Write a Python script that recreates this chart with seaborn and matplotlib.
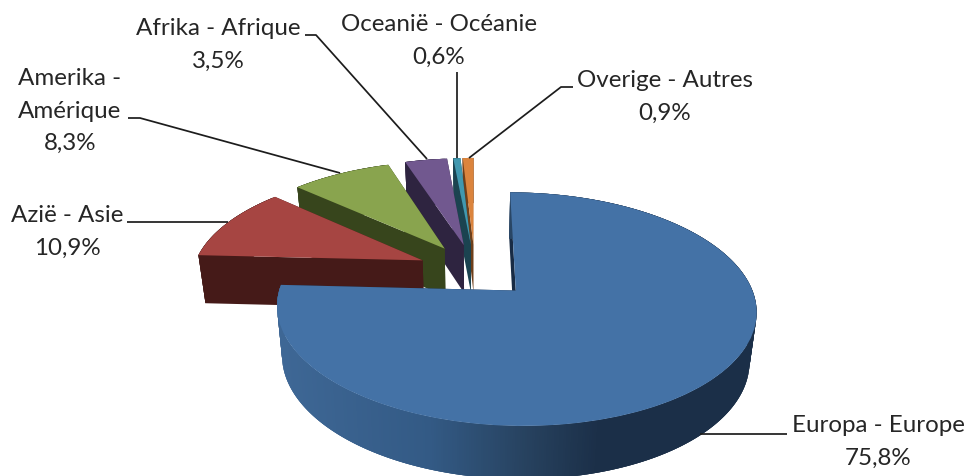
import numpy as np
import matplotlib
matplotlib.use("Agg")
import matplotlib.pyplot as plt
from matplotlib.collections import PolyCollection
from matplotlib.colors import to_rgb
from matplotlib.transforms import Transform
import seaborn as sns

categories = ["Europa - Europe", "Azië - Asie", "Amerika -\nAmérique",
              "Afrika - Afrique", "Oceanië - Océanie", "Overige - Autres"]
values = [75.8, 10.9, 8.3, 3.5, 0.6, 0.9]
top_colors = ["#4472a6", "#a64542", "#89a44e", "#71588f", "#4198af", "#db843d"]
wall_colors = ["#1b2f48", "#451a18", "#37451c", "#2e2440", "#1b4350", "#6e3f1a"]
label_pos = [(878, 442), (67, 232), (70, 111), (218, 45), (439, 41), (665, 97)]
leaders = [
    [(700, 434), (787, 434)],
    [(127, 222), (228, 222)],
    [(128, 118), (140, 118), (340, 173)],
    [(305, 35), (316, 35), (427, 159)],
    [(457, 72), (457, 158)],
    [(573, 87), (561, 87), (469, 158)],
]

EXPLODE = 0.25
X0, Y0, SX, SY, C = 475.0, 270.5, 230.0, 107.5, 0.155
VX, KX = 475.0, 0.0255


class Perspective(Transform):
    """Flat pie plane to the tilted plane of the picture, in pixels."""
    input_dims = output_dims = 2
    is_separable = False
    has_inverse = False

    def transform_non_affine(self, values):
        xy = np.asarray(values, float)
        w = 1 + C * xy[:, 1]
        return np.column_stack([X0 + SX * xy[:, 0] / w, Y0 - SY * xy[:, 1] / w])


persp = Perspective()


def lower(p):
    return np.array([VX + (p[0] - VX) * (1 - KX), p[1] + 48 + 0.03 * (p[1] - 253)])


def side_colour(x, base):
    if base != wall_colors[0]:
        return to_rgb(base)
    stops_x = [283, 430, 527, 600]
    stops_c = np.array([to_rgb(c) for c in ["#3e6795", "#335a85", "#27425f", "#1b2f48"]])
    return tuple(np.interp(x, stops_x, stops_c[:, i]) for i in range(3))


sns.set_theme(style="white")
plt.rcParams["font.family"] = ["Lato", "DejaVu Sans"]

fig = plt.figure(figsize=(9.68, 4.76), dpi=100)
ax = fig.add_axes([0, 0, 1, 1])
wedges, _ = ax.pie(values, explode=[EXPLODE] * len(values), colors=sns.color_palette(top_colors),
                   startangle=90, counterclock=False, radius=1,
                   wedgeprops=dict(edgecolor="none", linewidth=0))
ax.set_aspect("auto")

order = [5, 4, 3, 2, 1, 0]
for z, i in enumerate(order):
    w = wedges[i]
    base = 2 + z * 2
    cx, cy = w.center
    th = np.radians(np.linspace(w.theta1, w.theta2, max(6, int((w.theta2 - w.theta1) * 2))))
    arc = persp.transform(np.column_stack([cx + w.r * np.cos(th), cy + w.r * np.sin(th)]))
    apex = persp.transform(np.array([[cx, cy]]))[0]
    polys, cols = [], []
    for end in (arc[0], arc[-1]):
        polys.append([apex, end, lower(end), lower(apex)])
        cols.append(to_rgb(wall_colors[i]) if i else to_rgb("#182b44"))
    # every band reaches over its neighbour, so that no seam shows in the shading
    for k in range(len(arc) - 1):
        a, b = arc[k], arc[min(k + 3, len(arc) - 1)]
        polys.append([a, b, lower(b), lower(a)])
        cols.append(side_colour((arc[k][0] + arc[k + 1][0]) / 2, wall_colors[i]))
    ax.add_collection(PolyCollection(polys, facecolors=cols, edgecolors="none",
                                     linewidths=0, zorder=base))
    w.set_transform(persp + ax.transData)
    w.set_zorder(base + 1)
    w.set_clip_on(False)

for path in leaders:
    xs, ys = zip(*path)
    ax.plot(xs, ys, color="#1c1c1c", lw=1.25, zorder=30, solid_capstyle="butt")

for name, v, (x, y) in zip(categories, values, label_pos):
    ax.text(x, y, f"{name}\n{v:.1f}%".replace(".", ","), ha="center", va="center",
            fontsize=17.4, color="#262626", linespacing=1.66, zorder=31)

ax.set_xlim(0, 968)
ax.set_ylim(476, 0)
ax.set_axis_off()
fig.savefig("out.png", dpi=100, facecolor="white")
